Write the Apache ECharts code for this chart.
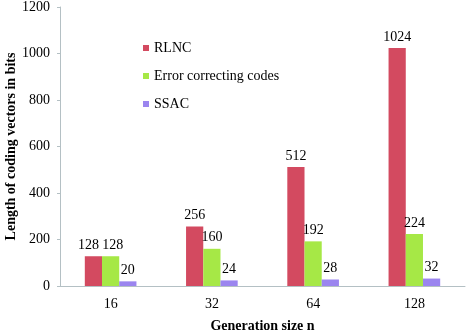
<!DOCTYPE html>
<html>
<head>
<meta charset="utf-8">
<script src="https://cdn.jsdelivr.net/npm/echarts@6/dist/echarts.min.js"></script>
<style>
html, body { margin: 0; padding: 0; background: #fff; }
#chart { width: 471px; height: 333px; }
</style>
</head>
<body>
<div id="chart"></div>
<script>
// data
const categories = ['16', '32', '64', '128'];
const rlnc = [128, 256, 512, 1024];
const ecc = [128, 160, 192, 224];
const ssac = [20, 24, 28, 32];

const font = 'Liberation Serif';

const chart = echarts.init(document.getElementById('chart'));

// labels of the two equal bars at n=16 are nudged apart, as in the original
function bar(name, data, color, firstShift) {
    return {
        name: name,
        type: 'bar',
        data: data.map((v, i) => i === 0 && firstShift
            ? { value: v, label: { offset: [firstShift, 0] } }
            : v),
        barGap: '0%',
        barCategoryGap: '49%',
        itemStyle: { color: color },
        label: {
            show: true,
            position: 'top',
            color: '#000',
            fontFamily: font,
            fontSize: 14,
            distance: 4
        }
    };
}

chart.setOption({
    animation: false,
    textStyle: { fontFamily: font },
    grid: { left: 60, right: 6, top: 7, bottom: 47, outerBoundsMode: 'none' },
    legend: {
        orient: 'vertical',
        left: 138,
        top: 36,
        itemWidth: 6,
        itemHeight: 6,
        itemGap: 14,
        icon: 'rect',
        textStyle: { fontFamily: font, fontSize: 14, color: '#000', padding: [5, 0, 0, 0] }
    },
    xAxis: {
        type: 'category',
        data: categories,
        name: 'Generation size n',
        nameLocation: 'middle',
        nameGap: 33,
        nameTextStyle: { fontFamily: font, fontSize: 14, fontWeight: 'bold', color: '#000' },
        axisLine: { lineStyle: { color: '#b4c0c4' } },
        axisTick: { show: false },
        axisLabel: { fontFamily: font, fontSize: 14, color: '#000', margin: 11 }
    },
    yAxis: {
        type: 'value',
        min: 0,
        max: 1200,
        interval: 200,
        name: 'Length of coding vectors in bits',
        nameLocation: 'middle',
        nameGap: 42,
        nameMoveOverlap: false,
        nameTextStyle: { fontFamily: font, fontSize: 14, fontWeight: 'bold', color: '#000' },
        axisLine: { show: true, lineStyle: { color: '#b4c0c4' } },
        axisTick: { show: true, length: 3, lineStyle: { color: '#b4c0c4' } },
        axisLabel: { fontFamily: font, fontSize: 14, color: '#000', margin: 10, formatter: v => String(v) },
        splitLine: { show: false }
    },
    series: [
        bar('RLNC', rlnc, '#d34a60', -5),
        bar('Error correcting codes', ecc, '#a6e846', 2),
        bar('SSAC', ssac, '#9b85ef', 0)
    ]
});
</script>
</body>
</html>
